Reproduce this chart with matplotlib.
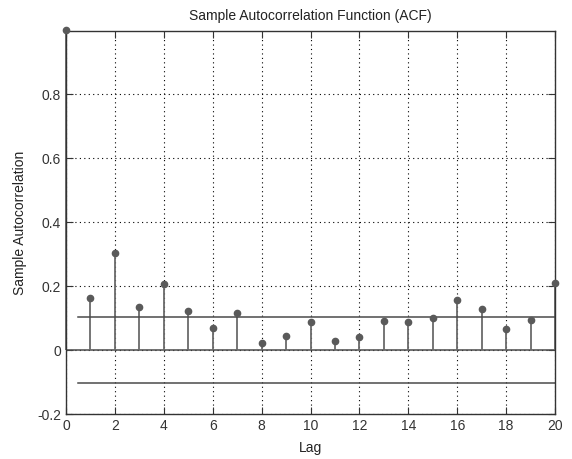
import numpy as np
import matplotlib
matplotlib.use("Agg")
import matplotlib.pyplot as plt

# ACF values
lags = list(range(21))
acf = [1.0, 0.163, 0.304, 0.135, 0.206, 0.122, 0.069, 0.115, 0.023, 0.045,
       0.088, 0.027, 0.042, 0.091, 0.088, 0.100, 0.156, 0.129, 0.066, 0.094, 0.209]
bound = 0.104

plt.rcParams["font.family"] = ["Liberation Sans", "DejaVu Sans"]

fig = plt.figure(figsize=(5.72, 4.59), dpi=100)
ax = fig.add_axes([0.1154, 0.098, 0.855, 0.8345])

# stems
ml, sl, bl = ax.stem(lags, acf, basefmt=" ")
plt.setp(sl, color="#6a6a6a", linewidth=1.3, clip_on=False)
plt.setp(ml, color="#5a5a5a", markersize=4.5, clip_on=False, zorder=5)

# baseline at zero
ax.axhline(0, color="#4a4a4a", linewidth=1.1, zorder=1)

# confidence bounds
ax.plot([0.5, 20], [bound, bound], color="#4a4a4a", linewidth=1.1)
ax.plot([0.5, 20], [-bound, -bound], color="#4a4a4a", linewidth=1.1)

ax.set_xlim(0, 20)
ax.set_ylim(-0.2, 0.998)
ax.set_xticks(range(0, 21, 2))
ax.set_yticks([-0.2, 0, 0.2, 0.4, 0.6, 0.8])
ax.set_yticklabels(["-0.2", "0", "0.2", "0.4", "0.6", "0.8"])
ax.grid(True, linestyle=(0, (1, 3)), color="#000000", linewidth=0.8)
ax.set_axisbelow(True)
ax.tick_params(direction="in", top=True, right=True, length=5, labelsize=10, colors="#333333")
for s in ax.spines.values():
    s.set_color("#333333")
    s.set_linewidth(1.0)

ax.set_title("Sample Autocorrelation Function (ACF)", fontsize=10, color="#222222", pad=8)
ax.set_xlabel("Lag", fontsize=10, color="#222222", labelpad=6)
ax.set_ylabel("Sample Autocorrelation", fontsize=10, color="#222222", labelpad=7)

fig.savefig("out.png", dpi=100, facecolor="white")
